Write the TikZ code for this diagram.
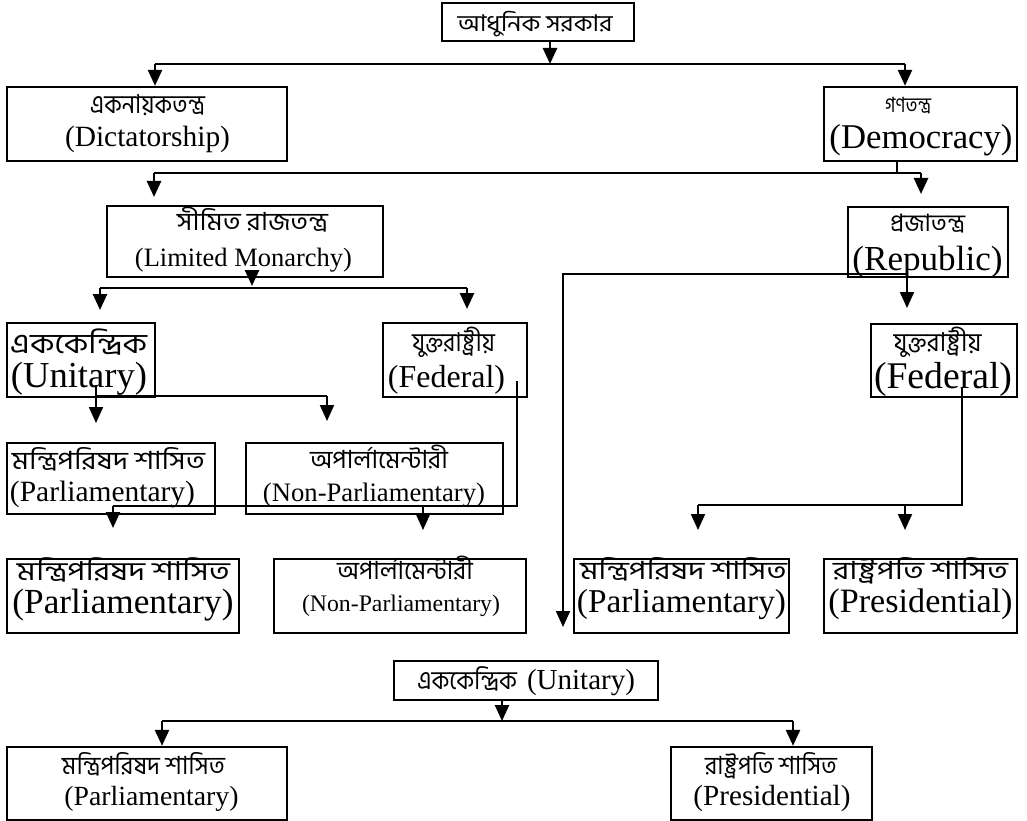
\documentclass[tikz,border=0pt]{standalone}
\usepackage{fontspec}
\setmainfont{Liberation Serif}
\newfontfamily\bnfont[Script=Bengali]{Hind Siliguri}
\usepackage{graphicx}
\usetikzlibrary{arrows.meta}
% Bengali: size #2, fitted to width #1
\newcommand\BNT[3]{\resizebox{#1pt}{\height}{\bnfont\fontsize{#2}{#2}\selectfont #3}}
% English: scaled to width #1
\newcommand\ENT[2]{\resizebox{#1pt}{!}{(#2)}}
\begin{document}
\begin{tikzpicture}[x=1pt,y=-1pt,
  box/.style={draw, line width=2.4pt, inner sep=0pt},
  txt/.style={anchor=base, inner sep=0pt, outer sep=0pt},
  conn/.style={line width=2.6pt},
  thin/.style={line width=2pt},
  arr/.style={conn, -{Triangle[width=14pt,length=16pt]}},
  tarr/.style={thin, -{Triangle[width=14pt,length=16pt]}}]
\useasboundingbox (0,0) rectangle (1027,821);

% boxes
\node[box, minimum width=192pt, minimum height=38pt] (top) at (538,22) {};
\node[box, minimum width=280pt, minimum height=74pt] (dict) at (147,124) {};
\node[box, minimum width=193pt, minimum height=74pt] (demo) at (920.5,124) {};
\node[box, minimum width=276pt, minimum height=71pt] (limmon) at (245,241.5) {};
\node[box, minimum width=160pt, minimum height=70pt] (repub) at (928,242) {};
\node[box, minimum width=148pt, minimum height=74pt] (unitL) at (81,360) {};
\node[box, minimum width=144pt, minimum height=74pt] (fedM) at (455,360) {};
\node[box, minimum width=146pt, minimum height=73pt] (fedR) at (944,360.5) {};
\node[box, minimum width=208pt, minimum height=71pt] (parlM) at (111,478.5) {};
\node[box, minimum width=257pt, minimum height=71pt] (nonparlM) at (374.5,478.5) {};
\node[box, minimum width=232pt, minimum height=74pt] (parlL) at (123,596) {};
\node[box, minimum width=252pt, minimum height=74pt] (nonparlL) at (400,596) {};
\node[box, minimum width=215pt, minimum height=74pt] (parlR) at (681.5,596) {};
\node[box, minimum width=193pt, minimum height=74pt] (presR) at (920.5,596) {};
\node[box, minimum width=264pt, minimum height=39pt] (unitB) at (526,680.5) {};
\node[box, minimum width=280pt, minimum height=73pt] (parlB) at (147,783.5) {};
\node[box, minimum width=201pt, minimum height=73pt] (presB) at (771.5,783.5) {};

% texts
\node[txt] (topA) at (535,32) {\BNT{155}{23}{আধুনিক সরকার}};
\node[txt] (dictA) at (147.5,114) {\BNT{115}{26}{একনায়কতন্ত্র}};
\node[txt] (dictB) at (147.5,147) {\ENT{165}{Dictatorship}};
\node[txt] (demoA) at (908,113) {\BNT{46}{21}{গণতন্ত্র}};
\node[txt] (demoB) at (921,149) {\ENT{183}{Democracy}};
\node[txt] (limmonA) at (252.5,230) {\BNT{151}{25}{সীমিত রাজতন্ত্র}};
\node[txt] (limmonB) at (243.5,266) {\ENT{217}{Limited Monarchy}};
\node[txt] (repubA) at (927.5,231) {\BNT{75}{24}{প্রজাতন্ত্র}};
\node[txt] (repubB) at (927.5,270) {\ENT{150}{Republic}};
\node[txt] (unitLA) at (78.5,353) {\BNT{137}{28}{এককেন্দ্রিক}};
\node[txt] (unitLB) at (79,387) {\ENT{136}{Unitary}};
\node[txt] (fedMA) at (453.5,351) {\BNT{83}{26}{যুক্তরাষ্ট্রীয়}};
\node[txt] (fedMB) at (446.5,387) {\ENT{117}{Federal}};
\node[txt] (fedRA) at (937.5,351) {\BNT{88}{26}{যুক্তরাষ্ট্রীয়}};
\node[txt] (fedRB) at (943,388) {\ENT{138}{Federal}};
\node[txt] (parlMA) at (108.5,469) {\BNT{193}{25}{মন্ত্রিপরিষদ শাসিত}};
\node[txt] (parlMB) at (102.5,501) {\ENT{185}{Parliamentary}};
\node[txt] (nonparlMA) at (379,468) {\BNT{138}{25}{অপার্লামেন্টারী}};
\node[txt] (nonparlMB) at (374,501) {\ENT{222}{Non-Parliamentary}};
\node[txt] (parlLA) at (123.5,580) {\BNT{213}{26}{মন্ত্রিপরিষদ শাসিত}};
\node[txt] (parlLB) at (123,613) {\ENT{221}{Parliamentary}};
\node[txt] (nonparlLA) at (405,579) {\BNT{136}{25}{অপার্লামেন্টারী}};
\node[txt] (nonparlLB) at (401,611) {\ENT{198}{Non-Parliamentary}};
\node[txt] (parlRA) at (683.5,579) {\BNT{207}{25}{মন্ত্রিপরিষদ শাসিত}};
\node[txt] (parlRB) at (681.5,612) {\ENT{209}{Parliamentary}};
\node[txt] (presRA) at (920.5,579) {\BNT{175}{25}{রাষ্ট্রপতি শাসিত}};
\node[txt] (presRB) at (920.5,612) {\ENT{184}{Presidential}};
\node[txt] (unitBA) at (526,689) {\BNT{100}{26}{এককেন্দ্রিক}\hspace{10pt}\ENT{108}{Unitary}};
\node[txt] (parlBA) at (143.5,774) {\BNT{163}{25}{মন্ত্রিপরিষদ শাসিত}};
\node[txt] (parlBB) at (151.5,805) {\ENT{174}{Parliamentary}};
\node[txt] (presBA) at (771,774) {\BNT{132}{25}{রাষ্ট্রপতি শাসিত}};
\node[txt] (presBB) at (772,805) {\ENT{157}{Presidential}};

% level 1
\coordinate (a1) at (550,64);
\coordinate (b1L) at (155,64);
\coordinate (b1R) at (905,64);
\draw[arr] (top.south -| a1) -- (a1);
\draw[conn] (b1L) -- (b1R);
\draw[arr] (b1L) -- (b1L |- dict.north);
\draw[arr] (b1R) -- (b1R |- demo.north);

% level 2 (democracy)
\coordinate (a2) at (897,173);
\coordinate (b2L) at (154,173);
\coordinate (b2R) at (921,173);
\coordinate (e2L) at (154,197);
\coordinate (e2R) at (921,194);
\draw[conn] (demo.south -| a2) -- (a2);
\draw[conn] (b2L) -- (b2R);
\draw[arr] (b2L) -- (e2L);
\draw[arr] (b2R) -- (e2R);

% limited monarchy
\coordinate (e3) at (252,286);
\coordinate (b3L) at (100,288);
\coordinate (b3R) at (467,288);
\coordinate (e3L) at (100,310);
\coordinate (e3R) at (467,309);
\draw[arr] (limmon.south -| e3) -- (e3);
\draw[conn] (b3L) -- (b3R);
\draw[arr] (b3L) -- (e3L);
\draw[arr] (b3R) -- (e3R);

% republic
\coordinate (rF) at (907,308);
\coordinate (r1) at (907,274);
\coordinate (r2) at (563,274);
\coordinate (rEnd) at (563,627);
\draw[tarr] ([yshift=9pt]repub.south -| rF) -- (rF);
\draw[tarr] (r1) -- (r2) -- (rEnd);

% unitary (left)
\coordinate (u0) at (96,396);
\coordinate (u1) at (327,396);
\coordinate (eu0) at (96,423);
\coordinate (eu1) at (327,421);
\draw[thin] ([yshift=13pt]unitL.south -| u0) -- (u0) -- (u1);
\draw[tarr] (u0) -- (eu0);
\draw[tarr] (u1) -- (eu1);

% federal (middle)
\coordinate (f0) at (517,506);
\coordinate (f1) at (113,506);
\coordinate (f2) at (423,506);
\coordinate (ef1) at (113,528);
\coordinate (ef2) at (423,530);
\draw[thin] ([yshift=17pt]fedM.south -| f0) -- (f0) -- (f1);
\draw[tarr] (f1) -- (ef1);
\draw[tarr] (f2) -- (ef2);

% federal (right)
\coordinate (g0) at (962,505);
\coordinate (g1) at (698,505);
\coordinate (g2) at (905,505);
\coordinate (eg1) at (698,530);
\coordinate (eg2) at (905,530);
\draw[thin] ([yshift=10pt]fedR.south -| g0) -- (g0) -- (g1);
\draw[tarr] (g1) -- (eg1);
\draw[tarr] (g2) -- (eg2);

% unitary (bottom)
\coordinate (v0) at (502,721);
\coordinate (v1) at (162,721);
\coordinate (v2) at (793,721);
\draw[arr] (unitB.south -| v0) -- (v0);
\draw[conn] (v1) -- (v2);
\draw[arr] (v1) -- (v1 |- parlB.north);
\draw[arr] (v2) -- (v2 |- presB.north);
\end{tikzpicture}
\end{document}
